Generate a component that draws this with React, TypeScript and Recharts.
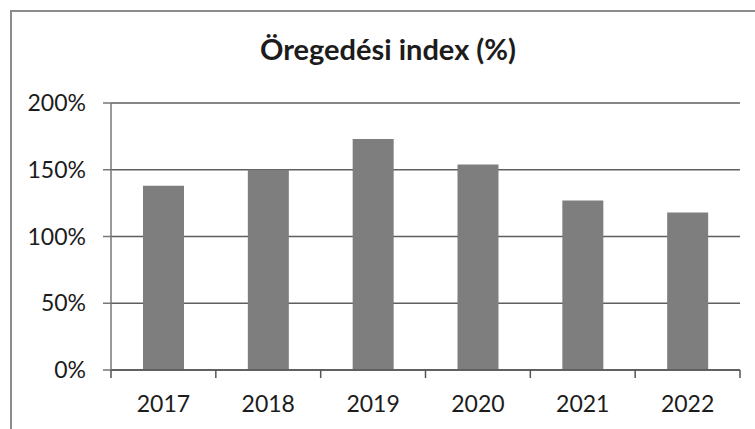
import React from "react";
import { BarChart, Bar, XAxis, YAxis, CartesianGrid } from "recharts";

const years = ["2017", "2018", "2019", "2020", "2021", "2022"];
const indexValues = [138, 150, 173, 154, 127, 118];
const yTicks = [0, 50, 100, 150, 200];
const title = "Öregedési index (%)";

const data = years.map((y, i) => ({ year: y, value: indexValues[i] }));

const FONT = "Lato, 'DejaVu Sans', sans-serif";
const X_TICK_SIZE = 8;
const X_TICK_MARGIN = 18;

function XTick(props: any) {
  const { x, y, payload, index, visibleTicksCount, width } = props;
  const half =
    payload && typeof payload.offset === "number" && payload.offset > 0
      ? payload.offset
      : width / visibleTicksCount / 2;
  const axisY = y - X_TICK_SIZE - X_TICK_MARGIN;
  const isLast = index === visibleTicksCount - 1;
  return (
    <g>
      <line x1={x - half} x2={x - half} y1={axisY} y2={axisY + X_TICK_SIZE} stroke="#555" strokeWidth={1.5} />
      {isLast && (
        <line x1={x + half} x2={x + half} y1={axisY} y2={axisY + X_TICK_SIZE} stroke="#555" strokeWidth={1.5} />
      )}
      <text x={x} y={y} dy="0.71em" textAnchor="middle" fill="#1c1c1c" fontSize={23} fontFamily={FONT}>
        {payload.value}
      </text>
    </g>
  );
}

export default function App() {
  return (
    <div style={{ position: "absolute", left: 0, top: 0, width: 755, height: 429, background: "#fff", overflow: "hidden" }}>
      <div
        style={{
          position: "absolute",
          left: 10,
          top: 10,
          width: 760,
          height: 440,
          border: "2px solid #8c8c8c",
          boxSizing: "border-box",
        }}
      />
      <div
        style={{
          position: "absolute",
          left: 0,
          width: 776,
          top: 30,
          textAlign: "center",
          fontFamily: FONT,
          fontWeight: 700,
          fontSize: 29,
          color: "#1c1c1c",
          lineHeight: "38px",
        }}
      >
        {title}
      </div>
      <div style={{ position: "absolute", left: 0, top: 0 }}>
        <BarChart width={755} height={429} data={data} margin={{ top: 103, right: 15, bottom: 0, left: 0 }}>
          <CartesianGrid vertical={false} stroke="#5e5e5e" strokeWidth={1.5} />
          <XAxis
            dataKey="year"
            height={59}
            tickLine={false}
            tickSize={X_TICK_SIZE}
            tickMargin={X_TICK_MARGIN}
            stroke="#555"
            strokeWidth={1.5}
            tick={<XTick />}
            interval={0}
          />
          <YAxis
            width={111}
            domain={[0, 200]}
            ticks={yTicks}
            tickFormatter={(v) => `${v}%`}
            tickSize={8}
            tickMargin={17}
            stroke="#777"
            strokeWidth={1.5}
            tick={{ fill: "#1c1c1c", fontSize: 23, fontFamily: FONT }}
          />
          <Bar dataKey="value" fill="#7e7e7e" barSize={41} isAnimationActive={false} />
        </BarChart>
      </div>
    </div>
  );
}
